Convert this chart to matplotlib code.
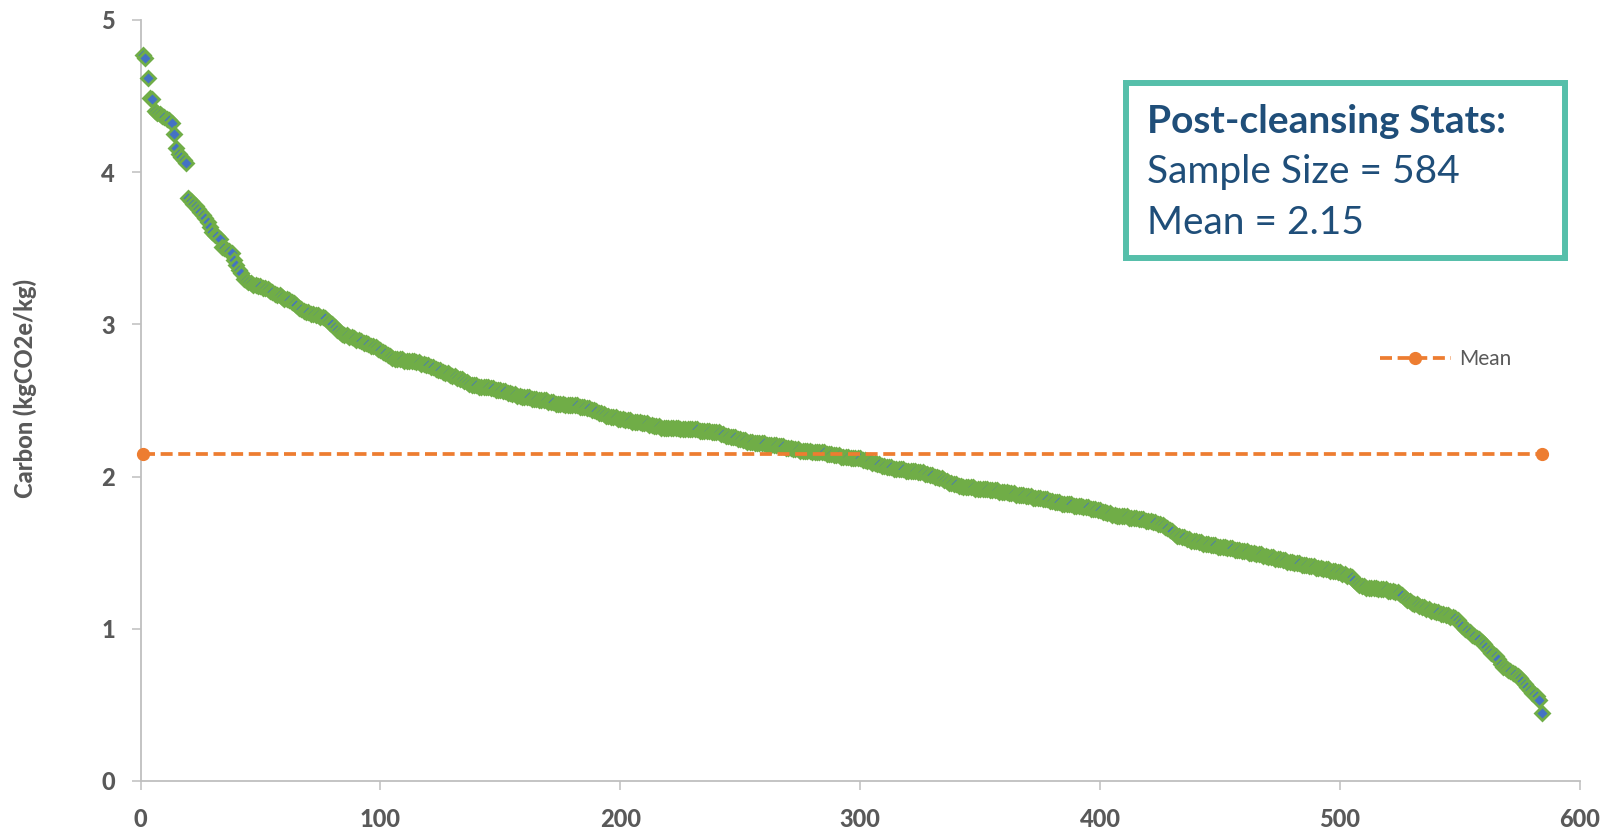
import matplotlib
matplotlib.use("Agg")
import matplotlib.pyplot as plt
from matplotlib.patches import Rectangle
from matplotlib.lines import Line2D
import numpy as np

plt.rcParams['font.family'] = ['Lato', 'DejaVu Sans']

# ---- data (sorted carbon values, kgCO2e/kg) ----
carbon = [
    4.77, 4.75, 4.62, 4.49, 4.48, 4.40, 4.39, 4.38, 4.37, 4.36,
    4.35, 4.34, 4.32, 4.25, 4.16, 4.12, 4.10, 4.08, 4.06, 3.83,
    3.81, 3.79, 3.78, 3.76, 3.74, 3.72, 3.70, 3.67, 3.64, 3.61,
    3.59, 3.58, 3.56, 3.51, 3.50, 3.49, 3.48, 3.47, 3.42, 3.39,
    3.36, 3.34, 3.30, 3.29, 3.28, 3.27, 3.26, 3.26, 3.25, 3.25,
    3.24,
    3.24, 3.23, 3.22, 3.21, 3.20, 3.19, 3.19,
    3.18, 3.17, 3.17, 3.16, 3.15, 3.14, 3.13,
    3.11, 3.10, 3.09, 3.08, 3.08, 3.07, 3.07,
    3.06, 3.06, 3.05, 3.05, 3.04, 3.02, 3.01,
    3.00, 2.98, 2.96, 2.95, 2.94, 2.93, 2.93,
    2.92, 2.92, 2.91, 2.90, 2.90, 2.89, 2.88,
    2.88, 2.87, 2.86, 2.86, 2.85, 2.84, 2.83,
    2.82, 2.81, 2.80, 2.79, 2.78, 2.77, 2.77,
    2.77, 2.77, 2.76, 2.76, 2.76, 2.76, 2.76,
    2.75, 2.75, 2.74, 2.74, 2.73, 2.73, 2.72,
    2.72, 2.71, 2.70, 2.70, 2.69, 2.68, 2.68,
    2.67, 2.66, 2.66, 2.65, 2.64, 2.64, 2.63,
    2.62, 2.61, 2.60, 2.60, 2.60, 2.59, 2.59,
    2.59, 2.59, 2.59, 2.58, 2.58, 2.57, 2.57,
    2.57, 2.56, 2.56, 2.55, 2.55, 2.54, 2.54,
    2.53, 2.53, 2.52, 2.52, 2.52, 2.52, 2.51,
    2.51, 2.51, 2.50, 2.50, 2.50, 2.50, 2.49,
    2.49, 2.49, 2.48, 2.48, 2.48, 2.48, 2.47,
    2.47, 2.47, 2.47, 2.47, 2.47, 2.46, 2.46,
    2.46, 2.45, 2.45, 2.44, 2.44, 2.43, 2.42,
    2.42, 2.41, 2.40, 2.40, 2.39, 2.39, 2.39,
    2.38, 2.38, 2.38, 2.37, 2.37, 2.37, 2.36,
    2.36, 2.36, 2.36, 2.35, 2.35, 2.35, 2.34,
    2.34, 2.33, 2.33, 2.33, 2.32, 2.32, 2.32,
    2.32, 2.32, 2.32, 2.32, 2.32, 2.31, 2.31,
    2.31, 2.31, 2.31, 2.31, 2.31, 2.31, 2.30,
    2.30, 2.30, 2.30, 2.30, 2.29, 2.29, 2.29,
    2.29, 2.28, 2.28, 2.27, 2.27, 2.26, 2.26,
    2.26, 2.25, 2.25, 2.24, 2.24, 2.23, 2.23,
    2.23, 2.22, 2.22, 2.22, 2.22, 2.22, 2.21,
    2.21, 2.21, 2.21, 2.21, 2.20, 2.20, 2.20,
    2.19, 2.19, 2.19, 2.18, 2.18, 2.18, 2.17,
    2.17, 2.17, 2.17, 2.17, 2.16, 2.16, 2.16,
    2.16, 2.16, 2.16, 2.15, 2.15, 2.15, 2.14,
    2.14, 2.14, 2.13, 2.13, 2.13, 2.13, 2.12,
    2.12, 2.12, 2.12, 2.12, 2.11, 2.11, 2.10,
    2.10, 2.09, 2.09, 2.08, 2.08, 2.07, 2.07,
    2.06, 2.06, 2.06, 2.05, 2.05, 2.05, 2.05,
    2.05, 2.04, 2.04, 2.04, 2.04, 2.04, 2.03,
    2.03, 2.03, 2.02, 2.02, 2.01, 2.01, 2.00,
    2.00, 1.99, 1.99, 1.98, 1.97, 1.96, 1.96,
    1.95, 1.95, 1.94, 1.94, 1.93, 1.93, 1.93,
    1.93, 1.93, 1.92, 1.92, 1.92, 1.92, 1.92,
    1.92, 1.91, 1.91, 1.91, 1.91, 1.90, 1.90,
    1.90, 1.90, 1.89, 1.89, 1.89, 1.88, 1.88,
    1.88, 1.88, 1.87, 1.87, 1.87, 1.86, 1.86,
    1.86, 1.86, 1.85, 1.85, 1.85, 1.84, 1.84,
    1.83, 1.83, 1.83, 1.82, 1.82, 1.82, 1.82,
    1.82, 1.81, 1.81, 1.81, 1.81, 1.80, 1.80,
    1.80, 1.79, 1.79, 1.79, 1.78, 1.78, 1.77,
    1.77, 1.76, 1.76, 1.75, 1.75, 1.74, 1.74,
    1.74, 1.74, 1.74, 1.73, 1.73, 1.73, 1.73,
    1.72, 1.72, 1.72, 1.71, 1.71, 1.71, 1.70,
    1.70, 1.69, 1.69, 1.68, 1.67, 1.66, 1.65,
    1.64, 1.62, 1.61, 1.61, 1.60, 1.60, 1.59,
    1.59, 1.58, 1.58, 1.58, 1.57, 1.57, 1.56,
    1.56, 1.56, 1.55, 1.55, 1.55, 1.54, 1.54,
    1.54, 1.54, 1.53, 1.53, 1.53, 1.52, 1.52,
    1.52, 1.51, 1.51, 1.51, 1.50, 1.50, 1.50,
    1.49, 1.49, 1.49, 1.48, 1.48, 1.47, 1.47,
    1.47, 1.46, 1.46, 1.46, 1.45, 1.45, 1.44,
    1.44, 1.44, 1.43, 1.43, 1.43, 1.42, 1.42,
    1.42, 1.41, 1.41, 1.41, 1.40, 1.40, 1.40,
    1.39, 1.39, 1.39, 1.38, 1.38, 1.38, 1.37,
    1.37, 1.36, 1.36, 1.35, 1.35, 1.34, 1.32,
    1.30, 1.29, 1.28, 1.28, 1.27, 1.27, 1.27,
    1.27, 1.27, 1.26, 1.26, 1.26, 1.26, 1.25,
    1.25, 1.25, 1.24, 1.24, 1.23, 1.22, 1.20,
    1.19, 1.18, 1.17, 1.16, 1.16, 1.15, 1.14,
    1.14, 1.13, 1.13, 1.12, 1.12, 1.11, 1.11,
    1.10, 1.10, 1.09, 1.09, 1.08, 1.08, 1.07,
    1.06, 1.04, 1.02, 1.00, 0.99, 0.98, 0.96,
    0.95, 0.94, 0.93, 0.91, 0.90, 0.88, 0.86,
    0.84, 0.83, 0.82, 0.80, 0.77, 0.75, 0.74,
    0.73, 0.72, 0.71, 0.70, 0.69, 0.68, 0.66,
    0.64, 0.62, 0.60, 0.58, 0.57, 0.56, 0.53, 0.445,
]
sample_index = list(range(1, len(carbon) + 1))

mean_value = 2.15
mean_x = [1, 584]
mean_y = [mean_value, mean_value]

x_ticks = [0, 100, 200, 300, 400, 500, 600]
y_ticks = [0, 1, 2, 3, 4, 5]

y_label = "Carbon (kgCO2e/kg)"
box_title = "Post-cleansing Stats:"
box_lines = ["Sample Size = 584", "Mean = 2.15"]
legend_label = "Mean"

# ---- style ----
W, H = 1612, 832
fig = plt.figure(figsize=(W / 100, H / 100), dpi=100)
ax = fig.add_axes([140.5 / W, 51 / H, (1580 - 140.5) / W, (781 - 20) / H])

grey_axis = "#BFBFBF"
grey_text = "#595959"
blue = "#4472C4"
green = "#70AD47"
orange = "#ED7D31"
navy = "#1F4E79"
teal = "#56BFAA"

ax.plot(sample_index, carbon, linestyle="none", marker="D", markersize=7,
        markerfacecolor=blue, markeredgecolor=green, markeredgewidth=2.0,
        zorder=3, clip_on=False)

ax.plot(mean_x, mean_y, color=orange, linewidth=2.7, linestyle=(0, (3.2, 1.5)),
        dash_capstyle="butt", marker="o", markersize=8.5, markerfacecolor=orange,
        markeredgecolor=orange, zorder=4, clip_on=False)

ax.set_xlim(0, 600)
ax.set_ylim(0, 5)
ax.set_xticks(x_ticks)
ax.set_yticks(y_ticks)
ax.set_xticklabels([str(v) for v in x_ticks], fontweight="black", fontsize=17)
ax.set_yticklabels([str(v) for v in y_ticks], fontweight="black", fontsize=17)

for s in ["top", "right"]:
    ax.spines[s].set_visible(False)
for s in ["left", "bottom"]:
    ax.spines[s].set_color(grey_axis)
    ax.spines[s].set_linewidth(1.3)

ax.tick_params(axis="both", direction="out", length=6.5, width=1.1,
               color=grey_axis, labelcolor=grey_text)
ax.tick_params(axis="y", pad=12)
ax.tick_params(axis="x", pad=13)

fig.text(25 / W, 1 - 388 / H, y_label, rotation=90, ha="center", va="center",
         fontsize=17, fontweight="black", color=grey_text)

# legend
handle = Line2D([0], [0], color=orange, linewidth=2.7, linestyle=(0, (3.2, 1.5)),
                marker="o", markersize=8.5, markerfacecolor=orange,
                markeredgecolor=orange)
leg = fig.legend([handle], [legend_label], loc="center left",
                 bbox_to_anchor=(1380 / W, 1 - 359 / H), frameon=False,
                 handlelength=3.4, handletextpad=0.4, borderpad=0,
                 borderaxespad=0, fontsize=15, labelcolor=grey_text,
                 numpoints=1)

# stats box
box = Rectangle((1126 / W, 1 - 258 / H), (1565 - 1126) / W, (258 - 83) / H,
                transform=fig.transFigure, facecolor="white", edgecolor=teal,
                linewidth=4.3, zorder=5)
fig.patches.append(box)
fig.text(1147 / W, 1 - 133 / H, box_title, fontsize=28, fontweight="bold",
         color=navy, va="baseline", ha="left", zorder=6)
fig.text(1147 / W, 1 - 183.5 / H, box_lines[0], fontsize=28,
         color=navy, va="baseline", ha="left", zorder=6)
fig.text(1147 / W, 1 - 234 / H, box_lines[1], fontsize=28,
         color=navy, va="baseline", ha="left", zorder=6)

fig.savefig("out.png", dpi=100, facecolor="white")
